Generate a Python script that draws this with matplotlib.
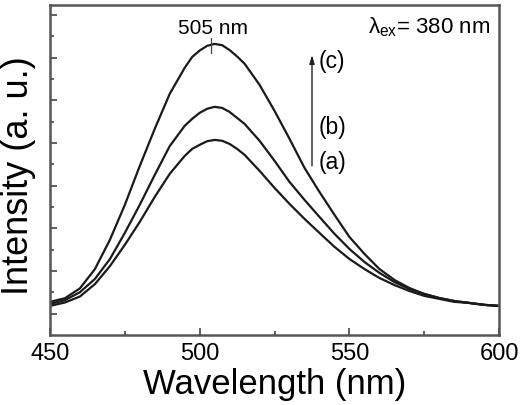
import matplotlib
matplotlib.use('Agg')
from matplotlib import pyplot as plt
from matplotlib.ticker import MultipleLocator, FixedLocator

plt.rcParams['font.family'] = ['Liberation Sans', 'DejaVu Sans']
plt.rcParams['mathtext.fontset'] = 'custom'
plt.rcParams['mathtext.rm'] = 'Liberation Sans'
plt.rcParams['mathtext.it'] = 'Liberation Sans:italic'

wavelength = [450, 455, 460, 465, 470, 475, 480, 485, 490, 495, 497.5, 500, 502.5, 505,
              507.5, 510, 512.5, 515, 520, 525, 530, 535, 540, 545, 550, 555, 560, 565,
              570, 575, 580, 585, 590, 595, 600]
curve_a = [1.36, 1.52, 1.80, 2.38, 3.22, 4.22, 5.30, 6.47, 7.55, 8.39, 8.72, 8.91, 9.08, 9.14,
           9.10, 8.95, 8.72, 8.44, 7.69, 6.89, 6.14, 5.44, 4.78, 4.13, 3.56, 3.09, 2.67, 2.34,
           2.06, 1.83, 1.69, 1.55, 1.50, 1.41, 1.36]
curve_b = [1.45, 1.63, 2.00, 2.62, 3.55, 4.78, 6.10, 7.50, 8.85, 9.80, 10.13, 10.41, 10.60, 10.69,
           10.64, 10.45, 10.17, 9.89, 9.10, 8.16, 7.17, 6.33, 5.53, 4.74, 4.03, 3.42, 2.91, 2.48,
           2.16, 1.92, 1.73, 1.59, 1.50, 1.41, 1.36]
curve_c = [1.55, 1.72, 2.18, 3.08, 4.45, 6.09, 7.92, 9.66, 11.30, 12.52, 13.03, 13.33, 13.55, 13.64,
           13.58, 13.35, 13.05, 12.71, 11.72, 10.50, 9.19, 7.83, 6.70, 5.63, 4.59, 3.80, 3.09, 2.58,
           2.20, 1.92, 1.73, 1.59, 1.50, 1.41, 1.36]

fig = plt.figure(figsize=(5.2, 4.05), dpi=100)
ax = fig.add_axes([0.096, 0.173, 0.864, 0.815])

for ys in (curve_a, curve_b, curve_c):
    ax.plot(wavelength, ys, color='#1a1a1a', lw=1.6)

ax.set_xlim(450, 600)
ax.set_ylim(0, 15.47)
ax.xaxis.set_major_locator(MultipleLocator(50))
ax.xaxis.set_minor_locator(MultipleLocator(25))
ax.yaxis.set_major_locator(FixedLocator(range(1, 16, 2)))
ax.yaxis.set_minor_locator(FixedLocator(range(2, 15, 2)))
ax.tick_params(which='both', direction='in', color='#444444', width=1.2, labelsize=17, pad=6)
ax.tick_params(which='major', length=5)
ax.tick_params(which='minor', length=3)
ax.tick_params(axis='y', labelleft=False)
for sp in ax.spines.values():
    sp.set_color('#555555')
    sp.set_linewidth(1.8)

ax.set_xlabel('Wavelength (nm)', fontsize=25)
ax.set_ylabel('Intensity (a. u.)', fontsize=26)
ax.xaxis.set_label_coords(0.5, -0.10)
ax.yaxis.set_label_coords(-0.03, 0.482)

# peak mark
ax.plot([503.7, 503.7], [13.2, 13.9], color='#444444', lw=0.9)
ax.text(504.5, 14.35, '505 nm', fontsize=15, ha='center', va='center')
ax.text(597, 14.42, r'λ$_{\mathrm{ex}}$= 380 nm', fontsize=16, ha='right', va='center')

ax.annotate('', xy=(537.5, 13.25), xytext=(537.5, 7.8),
            arrowprops=dict(arrowstyle='-|>,head_length=0.5,head_width=0.15', color='#222222', lw=1.0))
ax.text(539.6, 12.8, '(c)', fontsize=16.5, ha='left', va='center')
ax.text(539.6, 9.7, '(b)', fontsize=16.5, ha='left', va='center')
ax.text(539.6, 8.1, '(a)', fontsize=16.5, ha='left', va='center')

fig.savefig('out.png', dpi=100)
